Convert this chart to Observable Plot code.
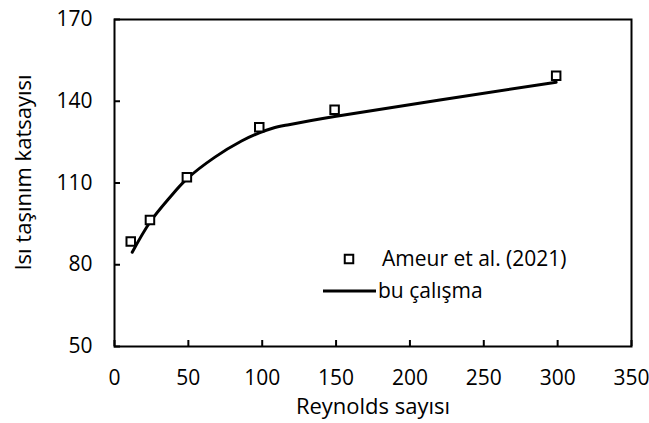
<!DOCTYPE html>
<html><head><meta charset="utf-8">
<script src="https://cdn.jsdelivr.net/npm/d3@7"></script>
<script src="https://cdn.jsdelivr.net/npm/@observablehq/plot@0.6"></script>
<style>body{margin:0;background:#fff}</style>
</head><body><div id="chart"></div>
<script>
// Reference data (Ameur et al. 2021) — squares
const refRe = [11, 24, 49, 98, 149, 299];
const refNu = [88.5, 96.4, 112.1, 130.5, 136.9, 149.4];
// This study — solid line
const lineRe = [12, 24, 37, 49, 68, 86, 98, 107, 118, 149, 299];
const lineNu = [84.6, 95.6, 104.4, 111.5, 119.5, 125.4, 128.4, 130.1, 131.4, 134.4, 147];
// Ticks and labels
const xTicks = [0, 50, 100, 150, 200, 250, 300, 350];
const yTicks = [50, 80, 110, 140, 170];
const seriesNames = ["Ameur et al. (2021)", "bu çalışma"];
const xTitle = "Reynolds sayısı";
const yTitle = "Isı taşınım katsayısı";

const points = refRe.map((x, i) => ({x, y: refNu[i]}));
const curve = lineRe.map((x, i) => ({x, y: lineNu[i]}));

const plot = Plot.plot({
  width: 649, height: 423,
  marginLeft: 114, marginRight: 18, marginTop: 19, marginBottom: 77,
  style: {fontFamily: "'Open Sans', sans-serif", fontSize: "21px", color: "black", background: "white"},
  x: {domain: [0, 350]},
  y: {domain: [50, 170]},
  marks: [
    Plot.axisX({ticks: xTicks, tickSize: -6, tickFormat: () => "", label: null, strokeWidth: 2}),
    Plot.axisX({ticks: xTicks, tickSize: 0, tickPadding: 24, label: null}),
    Plot.axisY({ticks: yTicks, tickSize: -6, tickFormat: () => "", label: null, strokeWidth: 2}),
    Plot.axisY({ticks: yTicks, tickSize: 0, tickPadding: 22, label: null}),
    Plot.frame({stroke: "black", strokeWidth: 2}),
    Plot.line(curve, {x: "x", y: "y", curve: "catmull-rom", stroke: "black", strokeWidth: 3}),
    Plot.dot(points, {x: "x", y: "y", symbol: "square", r: 4.8, stroke: "black", strokeWidth: 2, fill: "white"}),
    Plot.text([xTitle], {frameAnchor: "bottom", dy: 67, text: d => d, fontSize: 22})
  ]
});

const svg = d3.select(plot);
// Y axis title
svg.append("text")
  .attr("transform", "translate(23,172.5) rotate(-90)")
  .attr("text-anchor", "middle").attr("dy", "0.35em")
  .attr("font-family", "'Open Sans', sans-serif").attr("font-size", 22)
  .text(yTitle);

// Legend drawn inside the plot area
const g = svg.append("g").attr("font-family", "'Open Sans', sans-serif").attr("font-size", 21).attr("text-anchor", "start");
const sq = 8.5;
g.append("rect").attr("x", 349 - sq / 2).attr("y", 259 - sq / 2).attr("width", sq).attr("height", sq)
  .attr("fill", "white").attr("stroke", "black").attr("stroke-width", 2);
g.append("text").attr("x", 382).attr("y", 259).attr("dy", "0.35em").text(seriesNames[0]);
g.append("line").attr("x1", 323).attr("x2", 376).attr("y1", 291).attr("y2", 291)
  .attr("stroke", "black").attr("stroke-width", 3);
g.append("text").attr("x", 378).attr("y", 291).attr("dy", "0.35em").text(seriesNames[1]);

document.getElementById("chart").appendChild(plot);
</script>
</body></html>
